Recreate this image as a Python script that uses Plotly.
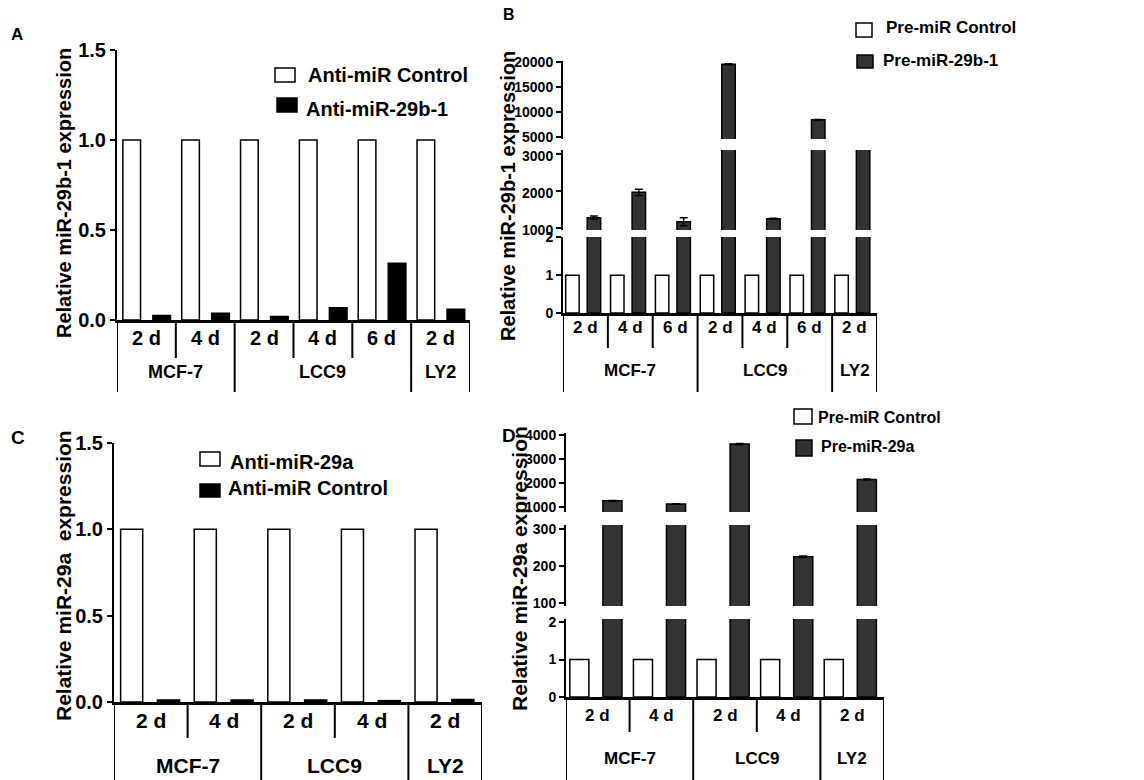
import numpy as np
import plotly.graph_objects as go

W, H = 1144, 780
FONT = "Liberation Sans, Arial, Helvetica, sans-serif"

# ---------------- data ----------------
A_days = ["2 d", "4 d", "2 d", "4 d", "6 d", "2 d"]
A_groups = ["MCF-7", "LCC9", "LY2"]
A_group_sizes = [2, 3, 1]
A_anti_control = [1.0, 1.0, 1.0, 1.0, 1.0, 1.0]
A_anti_29b1 = [0.025, 0.038, 0.02, 0.068, 0.315, 0.06]
A_ticks = [0.0, 0.5, 1.0, 1.5]
A_ticktext = ["0.0", "0.5", "1.0", "1.5"]

B_days = ["2 d", "4 d", "6 d", "2 d", "4 d", "6 d", "2 d"]
B_groups = ["MCF-7", "LCC9", "LY2"]
B_group_sizes = [3, 3, 1]
B_pre_control = [1, 1, 1, 1, 1, 1, 1]
B_pre_29b1 = [1280, 1965, 1170, 19550, 1250, 8450, 4000]
B_pre_29b1_err = [45, 85, 110, 80, 15, 60, 0]
B_seg_ticks = [[0, 1, 2], [1000, 2000, 3000], [5000, 10000, 15000, 20000]]

C_days = ["2 d", "4 d", "2 d", "4 d", "2 d"]
C_groups = ["MCF-7", "LCC9", "LY2"]
C_group_sizes = [2, 2, 1]
C_anti_29a = [1.0, 1.0, 1.0, 1.0, 1.0]
C_anti_control = [0.012, 0.012, 0.012, 0.008, 0.015]
C_ticks = [0.0, 0.5, 1.0, 1.5]
C_ticktext = ["0.0", "0.5", "1.0", "1.5"]

D_days = ["2 d", "4 d", "2 d", "4 d", "2 d"]
D_groups = ["MCF-7", "LCC9", "LY2"]
D_group_sizes = [2, 2, 1]
D_pre_control = [1, 1, 1, 1, 1]
D_pre_29a = [1260, 1125, 3620, 225, 2150]
D_pre_29a_err = [15, 10, 30, 2, 20]
D_seg_ticks = [[0, 1, 2], [100, 200, 300], [1000, 2000, 3000, 4000]]


def px(x):
    return x / W


def py(y):
    return 1 - y / H


fig = go.Figure()
shapes = []
annotations = []


def bold(size):
    return dict(family=FONT, size=size, color="black", weight="bold")


def add_bars(values, xa, ya, center, color, err=None, width=0.3):
    x = np.arange(len(values)) + center
    kw = {}
    if err is not None:
        kw["error_y"] = dict(type="data", array=err, visible=True,
                             thickness=1.5, width=4, color="black")
    fig.add_trace(go.Bar(x=x, y=values, width=width, xaxis=xa, yaxis=ya,
                         marker=dict(color=color, line=dict(color="black", width=1.5)),
                         showlegend=False, hoverinfo="skip", **kw))


def xaxis_layout(x0, x1, n, anchor):
    return dict(domain=[px(x0), px(x1)], range=[0, n], anchor=anchor,
                showline=True, linewidth=2.5, linecolor="black",
                showticklabels=False, ticks="", showgrid=False, zeroline=False,
                fixedrange=True, automargin=False)


def yaxis_layout(ytop, ybot, rng, anchor, tickvals, ticktext, size, shift=0):
    return dict(domain=[py(ybot), py(ytop)], range=rng, anchor=anchor,
                showline=True, linewidth=2, linecolor="black",
                ticks="outside", ticklen=5, tickwidth=2, tickcolor="black",
                tickvals=tickvals, ticktext=ticktext, tickfont=bold(size),
                ticklabelshift=shift,
                showgrid=False, zeroline=False, fixedrange=True, automargin=False)


def category_axis(xref, days, groups, sizes, axis_y, sub_bottom, grp_bottom,
                  day_y, grp_y, day_size, grp_size):
    n = len(days)
    bounds = [0] + list(np.cumsum(sizes))
    for b in range(n + 1):
        bottom = grp_bottom if b in bounds else sub_bottom
        shapes.append(dict(type="line", xref=xref, yref="paper", x0=b, x1=b,
                           y0=py(axis_y), y1=py(bottom),
                           line=dict(color="black", width=2)))
    for i, d in enumerate(days):
        annotations.append(dict(x=i + 0.5, y=py(day_y), xref=xref, yref="paper",
                                text=d, showarrow=False, font=bold(day_size),
                                xanchor="center", yanchor="middle"))
    for g, s, e in zip(groups, bounds[:-1], bounds[1:]):
        annotations.append(dict(x=(s + e) / 2, y=py(grp_y), xref=xref, yref="paper",
                                text=g, showarrow=False, font=bold(grp_size),
                                xanchor="center", yanchor="middle"))


def legend_item(x0, x1, y0, y1, fill, tx, ty, text, size):
    shapes.append(dict(type="rect", xref="paper", yref="paper",
                       x0=px(x0), x1=px(x1), y0=py(y1), y1=py(y0),
                       fillcolor=fill, line=dict(color="black", width=1.5)))
    annotations.append(dict(x=px(tx), y=py(ty), xref="paper", yref="paper",
                            text=text, showarrow=False, font=bold(size),
                            xanchor="left", yanchor="middle"))


def text(x, y, t, size, angle=0):
    annotations.append(dict(x=px(x), y=py(y), xref="paper", yref="paper", text=t,
                            showarrow=False, font=bold(size), textangle=angle,
                            xanchor="center", yanchor="middle"))


layout = {}

# ---------------- Panel A ----------------
add_bars(A_anti_control, "x", "y", 0.25, "white")
add_bars(A_anti_29b1, "x", "y", 0.76, "black")
layout["xaxis"] = xaxis_layout(117, 470, len(A_days), "y")
layout["yaxis"] = yaxis_layout(50, 320, [0, 1.5], "x", A_ticks, A_ticktext, 20)
category_axis("x", A_days, A_groups, A_group_sizes, 320, 358, 392, 338, 372, 20, 18)
legend_item(275, 295, 68, 82, "white", 306, 75, "Anti-miR Control", 20)
legend_item(277, 297, 98, 112, "black", 304, 109, "Anti-miR-29b-1", 20)
text(64, 193, "Relative miR-29b-1 expression", 20, -90)
text(17, 35, "A", 17)

# ---------------- Panel B (broken axis) ----------------
B_segs = [("y2", 237, 313, [0, 2.013], 0),
          ("y3", 150, 230, [946, 3108], 2),
          ("y4", 61, 139, [4600, 20200], 0)]
for k, (ya, top, bot, rng, sh) in enumerate(B_segs):
    if k == 0:
        add_bars(B_pre_control, "x2", ya, 0.21, "white")
    add_bars(B_pre_29b1, "x2", ya, 0.69, "#333333", err=B_pre_29b1_err)
    layout["yaxis" + ya[1:]] = yaxis_layout(top, bot, rng, "x2", B_seg_ticks[k],
                                            [str(v) for v in B_seg_ticks[k]], 14, sh)
layout["xaxis2"] = xaxis_layout(563, 877, len(B_days), "y2")
category_axis("x2", B_days, B_groups, B_group_sizes, 313, 348, 392, 327, 370, 17, 17)
legend_item(856, 872, 23, 37, "white", 884, 28, "Pre-miR Control", 17)
legend_item(857, 873, 55, 68, "#333333", 881, 61, "Pre-miR-29b-1", 17)
text(508, 196, "Relative miR-29b-1 expression", 20, -90)
text(509, 14, "B", 16)

# ---------------- Panel C ----------------
add_bars(C_anti_29a, "x3", "y5", 0.24, "white")
add_bars(C_anti_control, "x3", "y5", 0.74, "black")
layout["xaxis3"] = xaxis_layout(114, 482, len(C_days), "y5")
layout["yaxis5"] = yaxis_layout(443, 702, [0, 1.5], "x3", C_ticks, C_ticktext, 20)
category_axis("x3", C_days, C_groups, C_group_sizes, 702, 738, 782, 720, 765, 21, 21)
legend_item(200, 220, 452, 466, "white", 228, 462, "Anti-miR-29a", 20)
legend_item(200, 220, 484, 497, "black", 226, 488, "Anti-miR Control", 20)
text(63, 576, "Relative miR-29a  expression", 21, -90)
text(18, 437, "C", 19)

# ---------------- Panel D (broken axis) ----------------
D_segs = [("y6", 619, 697, [0, 2.08], 0),
          ("y7", 525, 606, [92, 311], 0),
          ("y8", 433, 512, [792, 4083], 0)]
for k, (ya, top, bot, rng, sh) in enumerate(D_segs):
    if k == 0:
        add_bars(D_pre_control, "x4", ya, 0.21, "white")
    add_bars(D_pre_29a, "x4", ya, 0.73, "#333333", err=D_pre_29a_err)
    layout["yaxis" + ya[1:]] = yaxis_layout(top, bot, rng, "x4", D_seg_ticks[k],
                                            [str(v) for v in D_seg_ticks[k]], 14, sh)
layout["xaxis4"] = xaxis_layout(566, 884, len(D_days), "y6")
category_axis("x4", D_days, D_groups, D_group_sizes, 697, 732, 782, 715, 758, 17, 17)
legend_item(794, 812, 409, 424, "white", 816, 417, "Pre-miR Control", 16)
legend_item(796, 812, 440, 456, "#333333", 819, 447, "Pre-miR-29a", 16)
text(519, 569, "Relative miR-29a expression", 21, -90)
text(509, 435, "D", 19)

fig.update_layout(**layout)
fig.update_layout(width=W, height=H, autosize=False,
                  margin=dict(l=0, r=0, t=0, b=0, pad=0),
                  paper_bgcolor="white", plot_bgcolor="white",
                  barmode="overlay", showlegend=False,
                  font=dict(family=FONT, color="black"),
                  shapes=shapes, annotations=annotations)

fig.write_html("out.html", config={"displayModeBar": False},
               post_script="document.body.style.margin='0px';document.body.style.overflow='hidden';")
